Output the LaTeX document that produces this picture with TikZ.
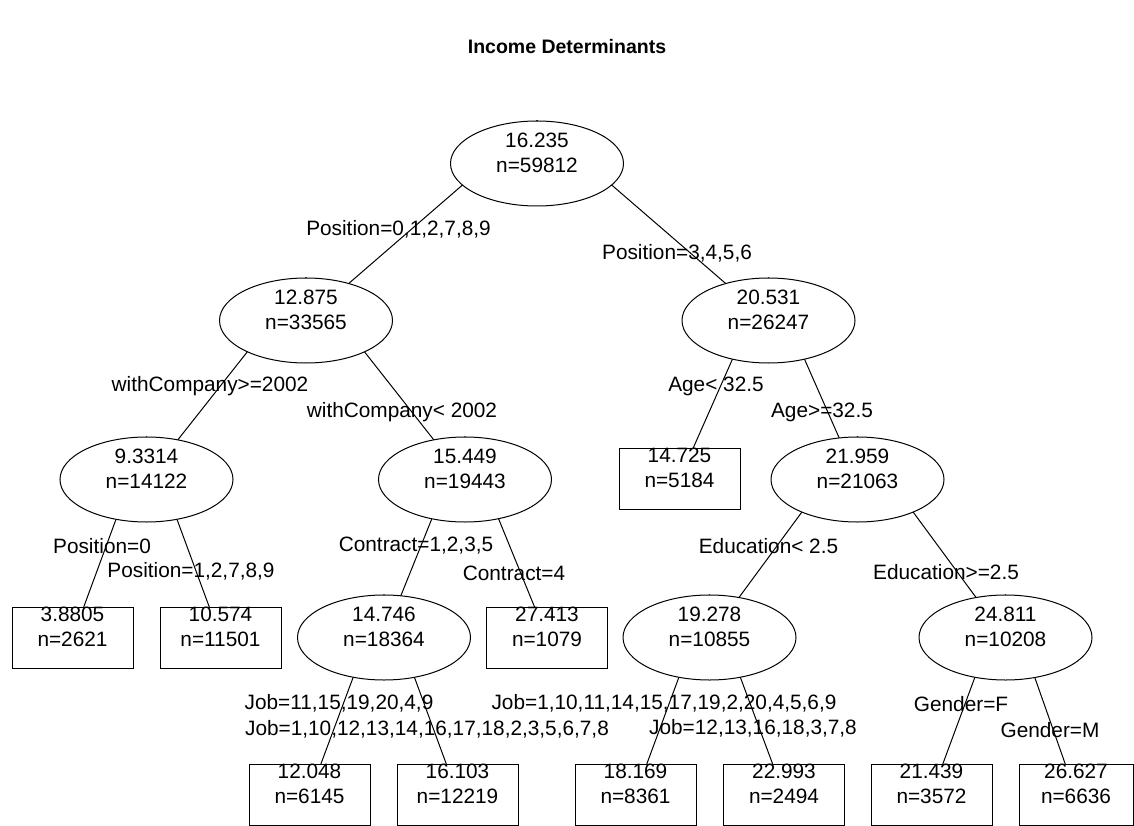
\documentclass[tikz,border=0pt]{standalone}
\usepackage{fontspec}
\setmainfont{Liberation Sans}
\usetikzlibrary{shapes.geometric,backgrounds}
\tikzset{
  ell/.style={ellipse,draw,fill=white,line width=1pt,minimum width=173pt,minimum height=85pt,inner sep=0pt},
  leaf/.style={rectangle,draw,fill=white,line width=1pt,minimum width=121pt,minimum height=61pt,inner sep=0pt},
  txt/.style={font=\fontsize{20.8}{25}\selectfont,align=center,inner sep=0pt},
  lab/.style={font=\fontsize{20.8}{25}\selectfont,inner sep=0pt,anchor=center},
  branch/.style={line width=1pt}
}
\newcommand{\tnode}[6]{%
  \node[#1] (#2) at (#3,#4) {};
  \node[txt,yshift=11pt] (#2t) at (#2.center) {#5\\n=#6};
}
\begin{document}
\begin{tikzpicture}[x=1pt,y=-1pt]
\useasboundingbox (0,0) rectangle (1134,826);
\node[font=\fontsize{19.5}{23}\selectfont\bfseries,inner sep=0pt] (title) at (567,47) {Income Determinants};
% nodes
\tnode{ell}{root}{537}{163.5}{16.235}{59812}
\tnode{ell}{a}{306}{320.5}{12.875}{33565}
\tnode{ell}{b}{768.5}{320.5}{20.531}{26247}
\tnode{ell}{aa}{146.5}{479.5}{9.3314}{14122}
\tnode{ell}{ab}{465}{479.5}{15.449}{19443}
\tnode{leaf}{ba}{679.5}{479}{14.725}{5184}
\tnode{ell}{bb}{857.5}{479.5}{21.959}{21063}
\tnode{leaf}{aaa}{72.5}{637.5}{3.8805}{2621}
\tnode{leaf}{aab}{220.5}{637.5}{10.574}{11501}
\tnode{ell}{aba}{384}{637.5}{14.746}{18364}
\tnode{leaf}{abb}{547}{637.5}{27.413}{1079}
\tnode{ell}{bba}{709.5}{637.5}{19.278}{10855}
\tnode{ell}{bbb}{1005.5}{637.5}{24.811}{10208}
\tnode{leaf}{abaa}{309.5}{794.5}{12.048}{6145}
\tnode{leaf}{abab}{457.5}{794.5}{16.103}{12219}
\tnode{leaf}{bbaa}{635.5}{794.5}{18.169}{8361}
\tnode{leaf}{bbab}{784}{794.5}{22.993}{2494}
\tnode{leaf}{bbba}{931.5}{794.5}{21.439}{3572}
\tnode{leaf,minimum width=114pt}{bbbb}{1076}{794.5}{26.627}{6636}
% branches (behind the nodes)
\begin{scope}[on background layer]
\draw[branch] (root.north) -- (a.center);
\draw[branch] (root.north) -- (b.center);
\draw[branch] (a.north) -- (aa.center);
\draw[branch] (a.north) -- (ab.center);
\draw[branch] (b.north) -- (ba.center);
\draw[branch] (b.north) -- (bb.center);
\draw[branch] (aa.north) -- (aaa.center);
\draw[branch] (aa.north) -- (aab.center);
\draw[branch] (ab.north) -- (aba.center);
\draw[branch] (ab.north) -- (abb.center);
\draw[branch] (bb.north) -- (bba.center);
\draw[branch] (bb.north) -- (bbb.center);
\draw[branch] (aba.north) -- (abaa.center);
\draw[branch] (aba.north) -- (abab.center);
\draw[branch] (bba.north) -- (bbaa.center);
\draw[branch] (bba.north) -- (bbab.center);
\draw[branch] (bbb.north) -- (bbba.center);
\draw[branch] (bbb.north) -- (bbbb.center);
\end{scope}
% split labels
\node[lab] (l1) at (398.5,229) {Position=0,1,2,7,8,9};
\node[lab] (l2) at (677,253) {Position=3,4,5,6};
\node[lab] (l3) at (210,386) {withCompany>=2002};
\node[lab] (l4) at (402,412) {withCompany< 2002};
\node[lab] (l5) at (716,386) {Age< 32.5};
\node[lab] (l6) at (822,412) {Age>=32.5};
\node[lab] (l7) at (102,546) {Position=0};
\node[lab] (l8) at (191,571) {Position=1,2,7,8,9};
\node[lab] (l9) at (416,546) {Contract=1,2,3,5};
\node[lab] (l10) at (514,573) {Contract=4};
\node[lab] (l11) at (768.5,546) {Education< 2.5};
\node[lab] (l12) at (946,572) {Education>=2.5};
\node[lab] (l13) at (339,703) {Job=11,15,19,20,4,9};
\node[lab] (l14) at (427,729) {Job=1,10,12,13,14,16,17,18,2,3,5,6,7,8};
\node[lab] (l15) at (664,703) {Job=1,10,11,14,15,17,19,2,20,4,5,6,9};
\node[lab] (l16) at (753,728) {Job=12,13,16,18,3,7,8};
\node[lab] (l17) at (961,704) {Gender=F};
\node[lab] (l18) at (1050,730) {Gender=M};
\end{tikzpicture}
\end{document}
